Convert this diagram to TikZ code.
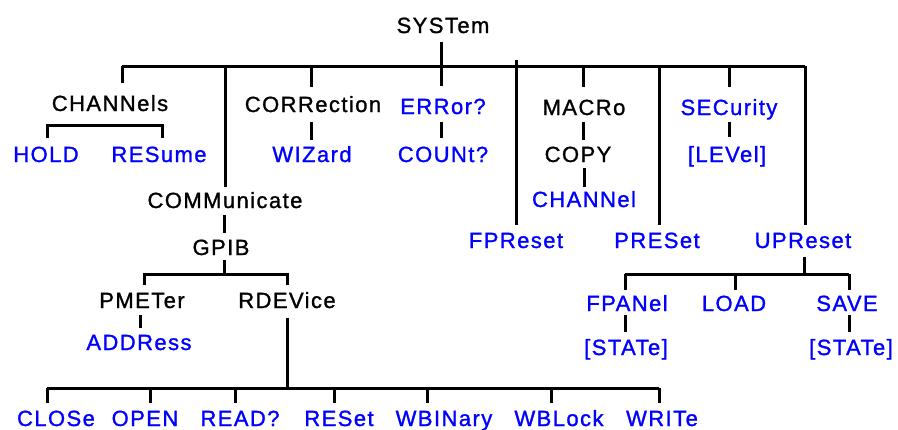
\documentclass[tikz,border=0pt]{standalone}
\usepackage{fontspec}
\newfontfamily\tfont[LetterSpace=6.5,FakeBold=1.2]{Liberation Sans}
\begin{document}
\begin{tikzpicture}[x=1pt,y=-1pt]
\tikzset{
  lbl/.style={anchor=base, inner sep=0pt, font=\tfont\fontsize{22}{22}\selectfont},
  kwlbl/.style={lbl, text=black},
  cmdlbl/.style={lbl, text=blue},
  ln/.style={line width=3pt}
}
\useasboundingbox[fill=white] (0,0) rectangle (898,429);
% texts
\node[kwlbl] (sys) at (443,33) {SYSTem};
\node[kwlbl] (chan) at (110,111) {CHANNels};
\node[kwlbl] (corr) at (313,112) {CORRection};
\node[cmdlbl] (err) at (443,114) {ERRor?};
\node[kwlbl] (macro) at (584,115) {MACRo};
\node[cmdlbl] (sec) at (729,115) {SECurity};
\node[cmdlbl] (hold) at (46,162) {HOLD};
\node[cmdlbl] (resume) at (159,162) {RESume};
\node[cmdlbl] (wiz) at (312,162) {WIZard};
\node[cmdlbl] (count) at (443,162) {COUNt?};
\node[kwlbl] (copy) at (578,162) {COPY};
\node[cmdlbl] (lev) at (727,162) {[LEVel]};
\node[kwlbl] (comm) at (225,208) {COMMunicate};
\node[cmdlbl] (chnl) at (584,207) {CHANNel};
\node[cmdlbl] (fpr) at (516,248) {FPReset};
\node[cmdlbl] (pres) at (657,248) {PRESet};
\node[cmdlbl] (upr) at (803,248) {UPReset};
\node[kwlbl] (gpib) at (221,255) {GPIB};
\node[kwlbl] (pmet) at (142,308) {PMETer};
\node[kwlbl] (rdev) at (287,308) {RDEVice};
\node[cmdlbl] (fpan) at (627,311) {FPANel};
\node[cmdlbl] (load) at (734,311) {LOAD};
\node[cmdlbl] (save) at (847,311) {SAVE};
\node[cmdlbl] (addr) at (139,350) {ADDRess};
\node[cmdlbl] (st1) at (626,355) {[STATe]};
\node[cmdlbl] (st2) at (851,355) {[STATe]};
\node[cmdlbl] (close) at (56,426) {CLOSe};
\node[cmdlbl] (open) at (145,426) {OPEN};
\node[cmdlbl] (read) at (240,426) {READ?};
\node[cmdlbl] (reset) at (339,426) {RESet};
\node[cmdlbl] (wbin) at (444,426) {WBINary};
\node[cmdlbl] (wblk) at (559,426) {WBLock};
\node[cmdlbl] (write) at (662,426) {WRITe};
% connector points
\coordinate (sysT) at (441,42);
\coordinate (errT) at (441,86);
\coordinate (busL) at (122,66);
\coordinate (busR) at (805,66);
\coordinate (chanT) at (122,83);
\coordinate (commB) at (225,66);
\coordinate (commT) at (225,187);
\coordinate (corrB) at (311,66);
\coordinate (corrT) at (311,87);
\coordinate (fprB) at (516,60);
\coordinate (fprT) at (516,225);
\coordinate (macB) at (583,66);
\coordinate (macT) at (583,87);
\coordinate (presB) at (659,66);
\coordinate (presT) at (659,225);
\coordinate (secB) at (729,66);
\coordinate (secT) at (729,87);
\coordinate (uprT) at (805,225);
% level 2
\coordinate (cbL) at (47,125);
\coordinate (cbR) at (162,125);
\coordinate (holdT) at (47,138);
\coordinate (resT) at (162,138);
\coordinate (wizA) at (311,122);
\coordinate (wizB) at (311,140);
\coordinate (cntA) at (441,122);
\coordinate (cntB) at (441,138);
\coordinate (copA) at (583,122);
\coordinate (copB) at (583,140);
\coordinate (chA) at (584,168);
\coordinate (chB) at (584,187);
\coordinate (levA) at (729,122);
\coordinate (levB) at (729,137);
\coordinate (gpA) at (224,215);
\coordinate (gpB) at (224,233);
\coordinate (gsA) at (224,260);
\coordinate (gsB) at (224,274);
\coordinate (gbL) at (144,274);
\coordinate (gbR) at (287,274);
\coordinate (pmT) at (144,285);
\coordinate (rdT) at (287,285);
\coordinate (adA) at (140,315);
\coordinate (adB) at (140,328);
\coordinate (rdA) at (287,318);
\coordinate (bbM) at (287,388);
\coordinate (bbL) at (47,388);
\coordinate (bbR) at (659,388);
\coordinate (usA) at (804,257);
\coordinate (usB) at (804,274);
\coordinate (ubL) at (625,274);
\coordinate (ubR) at (849,274);
\coordinate (ubM) at (735,274);
\coordinate (fpT) at (625,290);
\coordinate (ldT) at (735,290);
\coordinate (svT) at (849,290);
\coordinate (s1A) at (625,315);
\coordinate (s1B) at (625,332);
\coordinate (s2A) at (849,315);
\coordinate (s2B) at (849,332);
% top tree
\draw[ln] (sysT) -- (errT);
\draw[ln] (busL) -- (busR);
\draw[ln] (busL) -- (chanT);
\draw[ln] (commB) -- (commT);
\draw[ln] (corrB) -- (corrT);
\draw[ln] (fprB) -- (fprT);
\draw[ln] (macB) -- (macT);
\draw[ln] (presB) -- (presT);
\draw[ln] (secB) -- (secT);
\draw[ln] (busR) -- (uprT);
% second level
\draw[ln] (holdT) -- (cbL) -- (cbR) -- (resT);
\draw[ln] (wizA) -- (wizB);
\draw[ln] (cntA) -- (cntB);
\draw[ln] (copA) -- (copB);
\draw[ln] (chA) -- (chB);
\draw[ln] (levA) -- (levB);
\draw[ln] (gpA) -- (gpB);
\draw[ln] (gsA) -- (gsB);
\draw[ln] (pmT) -- (gbL) -- (gbR) -- (rdT);
\draw[ln] (adA) -- (adB);
\draw[ln] (rdA) -- (bbM);
\draw[ln] (bbL) -- (bbR);
\foreach \x in {47,150,235,334,427,551,659} {
  \draw[ln] (\x,388) -- (\x,403);
}
\draw[ln] (usA) -- (usB);
\draw[ln] (ubL) -- (ubR);
\draw[ln] (ubL) -- (fpT);
\draw[ln] (ubM) -- (ldT);
\draw[ln] (ubR) -- (svT);
\draw[ln] (s1A) -- (s1B);
\draw[ln] (s2A) -- (s2B);
\end{tikzpicture}
\end{document}
